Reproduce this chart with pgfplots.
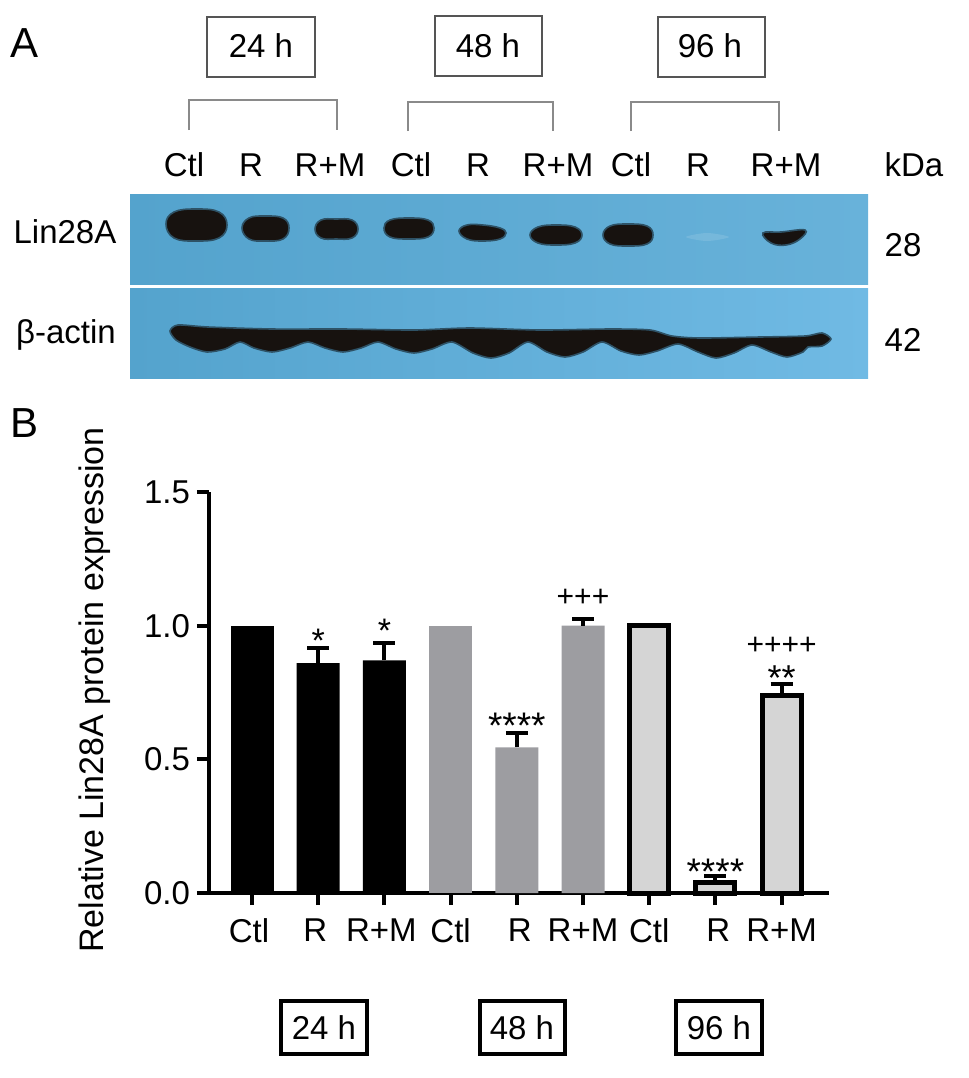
\documentclass[border=0pt]{standalone}
\usepackage{pgfplots}
\usepackage{pgfplotstable}
\usepackage{fontspec}
\setmainfont{Liberation Sans}
\pgfplotsset{compat=1.18}
\definecolor{bandc}{HTML}{17120F}
\definecolor{bandedge}{HTML}{2E5266}
\definecolor{boxg}{HTML}{555555}
\definecolor{brg}{HTML}{8A8A8A}
\definecolor{ga}{HTML}{9D9DA1}
\definecolor{gb}{HTML}{D5D5D5}
\newcommand{\fs}[1]{\fontsize{#1}{#1}\selectfont}
\newcommand{\ls}{\hspace*{-3pt}}
\pgfplotstableread{
x y e
1 0.86 0.055
2 0.87 0.065
}\tA
\pgfplotstableread{
x y e
4 0.545 0.055
5 1.00 0.025
}\tB
\pgfplotstableread{
x y e
7 0.04 0.022
8 0.74 0.04
}\tC
\begin{document}
\begin{tikzpicture}
\path[use as bounding box] (0pt,0pt) rectangle (484.5pt,539pt);
% overlay axis in reference pixel coordinates
\begin{axis}[at={(0pt,0pt)},anchor=south west,width=484.5pt,height=539pt,scale only axis,
  xmin=0,xmax=969,ymin=0,ymax=1078,y dir=reverse,hide axis,clip=false]
% blot panels
\addplot[draw=none,left color={rgb,255:red,84;green,163;blue,205},right color={rgb,255:red,104;green,178;blue,218}] coordinates {(130,194)(868,194)(868,284)(130,284)} --cycle;
\addplot[draw=none,left color={rgb,255:red,84;green,163;blue,205},right color={rgb,255:red,112;green,186;blue,228}] coordinates {(130,288)(868,288)(868,378)(130,378)} --cycle;
% Lin28A bands
\pgfplotsset{band/.style={/tikz/smooth cycle,fill=bandc,draw=bandedge,line width=0.8pt,mark=none,tension=0.7}}
\addplot[band] coordinates {(166,224)(174,212)(196,209)(219,212)(227,225)(219,238)(196,241)(174,238)};
\addplot[band] coordinates {(242,228)(249,218)(265,216)(283,218)(289,228)(283,239)(265,241)(249,239)};
\addplot[band] coordinates {(315,229)(321,220)(336,219)(352,220)(358,229)(352,238)(336,239)(321,238)};
\addplot[band] coordinates {(384,228)(390,220)(409,218)(428,220)(434,228)(428,237)(409,239)(390,237)};
\addplot[band] coordinates {(459,231)(467,225)(483,225)(500,228)(506,233)(500,239)(483,241)(467,239)};
\addplot[band] coordinates {(530,235)(538,227)(556,225)(575,227)(582,235)(575,243)(556,245)(538,243)};
\addplot[band] coordinates {(603,235)(610,226)(628,224)(647,226)(653,235)(647,244)(628,246)(610,244)};
\addplot[draw=none,fill=white,fill opacity=0.12,/tikz/smooth cycle] coordinates {(686,237)(707,233)(729,237)(707,241)};
\addplot[band] coordinates {(763,233)(781,232)(805,230)(800,239)(786,245)(771,243)};
% beta-actin band
\addplot[/tikz/smooth cycle,tension=0.45,fill=bandc,draw=bandedge,line width=0.8pt,mark=none] coordinates {
 (170,331)(178,325)(208,327)(272,329)(343,329)(414,330)(470,328)(540,330)(610,329)(650,330)(672,336)(700,338)(760,337)(805,336)(822,333)(831,339)(822,346)(808,347)
 (803,352)(787,357)(771,352)(752,345)(734,353)(716,358)(698,352)(678,344)(657,351)(639,355)(621,351)(602,342)(583,352)(565,357)(547,352)(528,342)(509,353)(491,358)(473,353)(452,342)(432,349)(414,353)(396,349)(378,342)(361,348)(343,352)(325,348)(308,342)(290,348)(272,352)(254,348)(240,342)(225,349)(207,352)(190,347)(176,340)};
% brackets
\addplot[brg,line width=1pt] coordinates {(189,130)(189,100)(337,100)(337,130)};
\addplot[brg,line width=1pt] coordinates {(408,131)(408,102)(553,102)(553,131)};
\addplot[brg,line width=1pt] coordinates {(631,131)(631,102)(779,102)(779,131)};
% top boxes
\addplot[boxg,line width=1.1pt] coordinates {(207,17)(315,17)(315,77)(207,77)} --cycle;
\addplot[boxg,line width=1.1pt] coordinates {(435,16)(542,16)(542,76)(435,76)} --cycle;
\addplot[boxg,line width=1.1pt] coordinates {(658,17)(765,17)(765,77)(658,77)} --cycle;
% bottom boxes
\addplot[black,line width=1.6pt] coordinates {(281,1001)(367,1001)(367,1054)(281,1054)} --cycle;
\addplot[black,line width=1.6pt] coordinates {(480,1001)(565,1001)(565,1054)(480,1054)} --cycle;
\addplot[black,line width=1.6pt] coordinates {(676,1001)(762,1001)(762,1054)(676,1054)} --cycle;
% text
\node[font=\fs{21}] at (25,43) {A};
\node[font=\fs{21}] at (25,423) {B};
\node[font=\fs{16.5}] at (261,46) {24 h};
\node[font=\fs{16.5}] at (488,46) {48 h};
\node[font=\fs{16.5}] at (710,46) {96 h};
\node[font=\fs{16.5}] at (184,165) {Ctl};
\node[font=\fs{16.5}] at (251,165) {R};
\node[font=\fs{16.5}] at (330,165) {R+M};
\node[font=\fs{16.5}] at (411,165) {Ctl};
\node[font=\fs{16.5}] at (478,165) {R};
\node[font=\fs{16.5}] at (558,165) {R+M};
\node[font=\fs{16.5}] at (631,165) {Ctl};
\node[font=\fs{16.5}] at (698,165) {R};
\node[font=\fs{16.5}] at (786,165) {R+M};
\node[font=\fs{16.5}] at (914,165) {kDa};
\node[font=\fs{16.5}] at (65,232) {Lin28A};
\node[font=\fs{16.5}] at (66,335) {β-actin};
\node[font=\fs{16.5}] at (903,245) {28};
\node[font=\fs{16.5}] at (903,340) {42};
\node[font=\fs{16.5}] at (324,1028) {24 h};
\node[font=\fs{16.5}] at (522,1028) {48 h};
\node[font=\fs{16.5}] at (719,1028) {96 h};
\end{axis}
% bar chart
\begin{axis}[at={(104.5pt,92.5pt)},anchor=south west,width=310pt,height=200.5pt,scale only axis,
  xmin=-0.65,xmax=8.716,ymin=0,ymax=1.5,
  axis lines=left,axis line style={-,line width=2pt,black},
  tick style={black,line width=2pt},major tick length=6pt,tick align=outside,
  xtick={0,...,8},xticklabels={\ls Ctl,\ls R,\ls R+M,Ctl,R\ls,R+M,Ctl,R\ls,R+M},
  ytick={0,0.5,1,1.5},
  /pgf/number format/assume math mode=true,
  yticklabel style={/pgf/number format/fixed,/pgf/number format/fixed zerofill,/pgf/number format/precision=1},
  tick label style={font=\fs{16.5}},
  x tick label style={yshift=-3.5pt},
  ylabel={Relative Lin28A protein expression},
  every axis y label/.style={at={(axis description cs:-0.185,0.506)},rotate=90,anchor=center,font=\fs{17}},
  clip=false]
\pgfplotsset{errs/.style={error bars/.cd,y dir=plus,y explicit,error bar style={line width=2pt,black},error mark options={rotate=90,mark size=5.5pt,line width=2pt,black}}}
\addplot[ybar,bar width=21.5pt,bar shift=0pt,fill=black,draw=none] coordinates {(0,1)};
\addplot[ybar,bar width=21.5pt,bar shift=0pt,fill=black,draw=none,errs] table[x=x,y=y,y error=e] {\tA};
\addplot[ybar,bar width=21.5pt,bar shift=0pt,fill=ga,draw=none] coordinates {(3,1)};
\addplot[ybar,bar width=21.5pt,bar shift=0pt,fill=ga,draw=none,errs] table[x=x,y=y,y error=e] {\tB};
\addplot[ybar,bar width=19.5pt,bar shift=0pt,fill=gb,draw=black,line width=2.5pt] coordinates {(6,1)};
\addplot[ybar,bar width=19.5pt,bar shift=0pt,fill=gb,draw=black,line width=2.5pt,errs] table[x=x,y=y,y error=e] {\tC};
\node[font=\fs{17}] at (axis cs:1,0.945) {*};
\node[font=\fs{17}] at (axis cs:2,0.98) {*};
\node[font=\fs{18.5}] at (axis cs:4,0.625) {****};
\node[font=\fs{15}] at (axis cs:5,1.105) {+++};
\node[font=\fs{15}] at (axis cs:8,0.925) {++++};
\node[font=\fs{18}] at (axis cs:8,0.805) {**};
\node[font=\fs{18.5}] at (axis cs:7,0.08) {****};
\end{axis}
\end{tikzpicture}
\end{document}
